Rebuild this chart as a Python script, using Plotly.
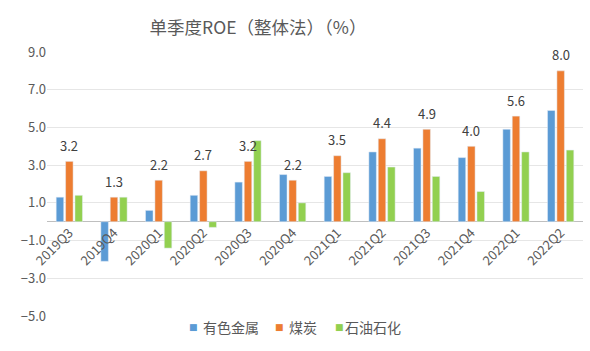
import plotly.graph_objects as go

categories = ["2019Q3", "2019Q4", "2020Q1", "2020Q2", "2020Q3", "2020Q4",
              "2021Q1", "2021Q2", "2021Q3", "2021Q4", "2022Q1", "2022Q2"]
nonferrous = [1.3, -2.1, 0.6, 1.4, 2.1, 2.5, 2.4, 3.7, 3.9, 3.4, 4.9, 5.9]
coal = [3.2, 1.3, 2.2, 2.7, 3.2, 2.2, 3.5, 4.4, 4.9, 4.0, 5.6, 8.0]
petro = [1.4, 1.3, -1.4, -0.3, 4.3, 1.0, 2.6, 2.9, 2.4, 1.6, 3.7, 3.8]
series_names = ["有色金属", "煤炭", "石油石化"]
series_colors = ["#5B9BD5", "#ED7D31", "#92D050"]
ytick_vals = [-5, -3, -1, 1, 3, 5, 7, 9]

FONT = "Noto Sans CJK SC, Microsoft YaHei, sans-serif"
L, R, T, B, W, H = 47, 7, 52, 35, 590, 351
PW = W - L - R

fig = go.Figure()
for name, vals, col in zip(series_names, [nonferrous, coal, petro], series_colors):
    fig.add_trace(go.Bar(x=categories, y=vals, name=name, marker_color=col))

for c, v in zip(categories, coal):
    fig.add_annotation(x=c, y=v, text=f"{v:.1f}", showarrow=False, yshift=16,
                       font=dict(family=FONT, size=13, color="#404040"))

# legend drawn as text (compact Excel-style squares)
sq_px = [193, 279, 339.5]
txt_px = [201, 287, 343]
leg_y = -(327 - (H - B)) / (H - T - B)
for name, col, sx, tx in zip(series_names, series_colors, sq_px, txt_px):
    fig.add_annotation(xref="paper", yref="paper", x=(sx - L) / PW, y=leg_y,
                       text="■", showarrow=False, xanchor="center", yanchor="middle",
                       font=dict(family="DejaVu Sans", size=9, color=col))
    fig.add_annotation(xref="paper", yref="paper", x=(tx - L) / PW, y=leg_y,
                       text=name, showarrow=False, xanchor="left", yanchor="middle",
                       font=dict(family=FONT, size=14, color="#595959"))

fig.update_layout(
    width=W, height=H,
    margin=dict(l=L, r=R, t=T, b=B),
    paper_bgcolor="white", plot_bgcolor="white",
    barmode="group", bargap=0.37, bargroupgap=0.2,
    font=dict(family=FONT, size=13, color="#595959"),
    title=dict(text="单季度ROE（整体法）（%）", x=258 / W, xanchor="center",
               y=1 - 28 / H, yanchor="middle",
               font=dict(family=FONT, size=17.5, color="#595959")),
    showlegend=False,
    xaxis=dict(anchor="free", position=5 / 14, tickangle=-45, showgrid=False,
               showline=False, ticks="", tickfont=dict(size=13, color="#595959")),
    yaxis=dict(range=[-5, 9], tickvals=ytick_vals, tickformat=".1f",
               showgrid=True, gridcolor="#E6E6E6", gridwidth=1,
               zeroline=True, zerolinecolor="#BFBFBF", zerolinewidth=1,
               ticks="", tickfont=dict(size=13, color="#595959")),
)

fig.write_html("out.html")
